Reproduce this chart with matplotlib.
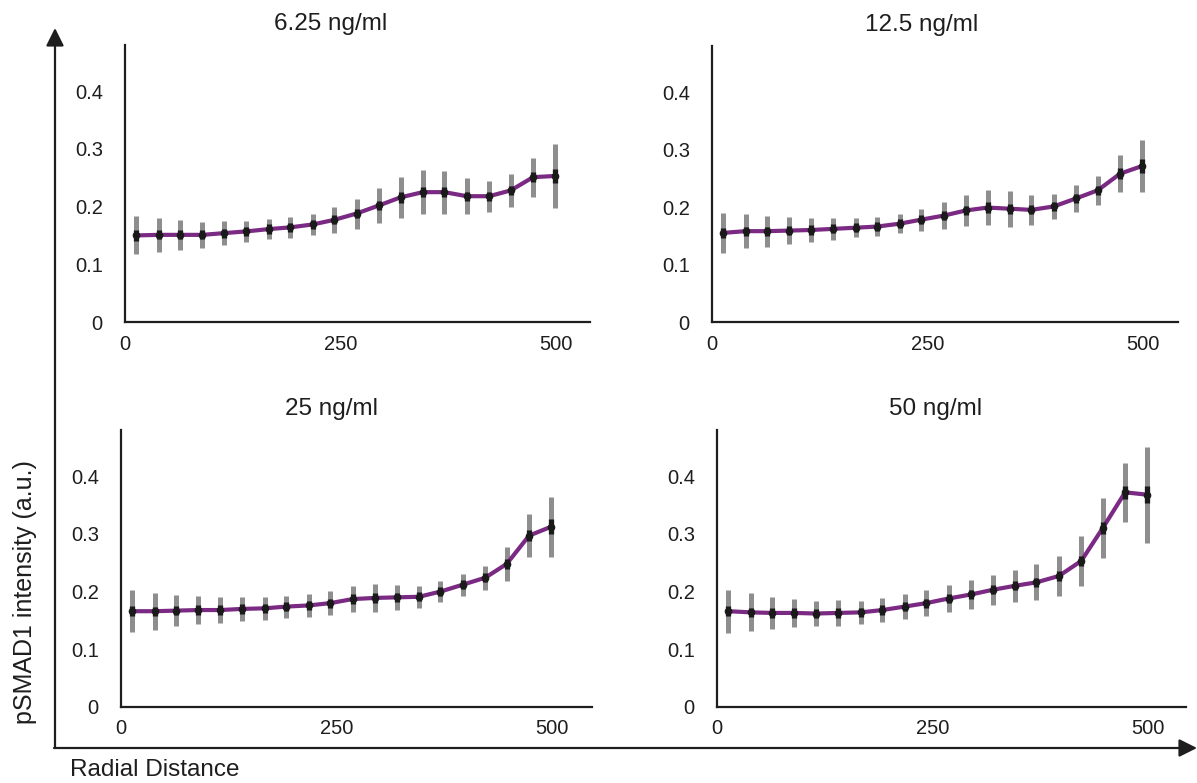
import matplotlib
matplotlib.use("Agg")
import matplotlib.pyplot as plt

plt.rcParams['font.family'] = ['Liberation Sans', 'DejaVu Sans']

# ---- data ----
radial = [13, 39, 64, 90, 115, 141, 167, 192, 218, 243,
          269, 295, 320, 346, 371, 397, 423, 448, 474, 499]

titles = ["6.25 ng/ml", "12.5 ng/ml", "25 ng/ml", "50 ng/ml"]

mean_625 = [0.150, 0.151, 0.151, 0.151, 0.154, 0.157, 0.161, 0.164, 0.169, 0.177,
            0.188, 0.202, 0.216, 0.225, 0.225, 0.218, 0.218, 0.228, 0.251, 0.253]
sd_625 = [0.033, 0.030, 0.026, 0.023, 0.021, 0.018, 0.017, 0.018, 0.019, 0.022,
          0.026, 0.031, 0.036, 0.038, 0.037, 0.031, 0.027, 0.029, 0.034, 0.056]
se_625 = [0.009, 0.008, 0.008, 0.008, 0.008, 0.008, 0.008, 0.008, 0.008, 0.008,
          0.008, 0.008, 0.009, 0.009, 0.009, 0.008, 0.008, 0.008, 0.009, 0.012]

mean_125 = [0.155, 0.158, 0.158, 0.159, 0.160, 0.162, 0.164, 0.166, 0.171, 0.178,
            0.185, 0.194, 0.199, 0.197, 0.195, 0.201, 0.215, 0.229, 0.258, 0.271]
sd_125 = [0.035, 0.029, 0.027, 0.024, 0.021, 0.019, 0.017, 0.017, 0.017, 0.019,
          0.023, 0.027, 0.031, 0.031, 0.026, 0.022, 0.023, 0.025, 0.032, 0.045]
se_125 = [0.009, 0.008, 0.008, 0.008, 0.008, 0.008, 0.008, 0.008, 0.008, 0.008,
          0.008, 0.008, 0.009, 0.009, 0.008, 0.008, 0.008, 0.008, 0.009, 0.012]

mean_25 = [0.166, 0.166, 0.167, 0.168, 0.168, 0.170, 0.171, 0.174, 0.176, 0.180,
           0.187, 0.189, 0.190, 0.191, 0.200, 0.212, 0.224, 0.248, 0.297, 0.312]
sd_25 = [0.036, 0.032, 0.027, 0.025, 0.023, 0.021, 0.020, 0.019, 0.020, 0.021,
         0.023, 0.025, 0.022, 0.019, 0.018, 0.019, 0.021, 0.029, 0.037, 0.052]
se_25 = [0.009, 0.008, 0.008, 0.008, 0.008, 0.008, 0.008, 0.008, 0.008, 0.008,
         0.008, 0.008, 0.008, 0.008, 0.008, 0.008, 0.008, 0.009, 0.010, 0.013]

mean_50 = [0.166, 0.164, 0.163, 0.163, 0.162, 0.163, 0.164, 0.168, 0.174, 0.180,
           0.188, 0.195, 0.203, 0.210, 0.216, 0.227, 0.253, 0.310, 0.372, 0.368]
sd_50 = [0.037, 0.033, 0.027, 0.025, 0.022, 0.022, 0.020, 0.021, 0.022, 0.023,
         0.024, 0.025, 0.026, 0.028, 0.031, 0.034, 0.043, 0.052, 0.051, 0.083]
se_50 = [0.009, 0.008, 0.008, 0.008, 0.008, 0.008, 0.008, 0.008, 0.008, 0.008,
         0.008, 0.008, 0.008, 0.008, 0.008, 0.008, 0.009, 0.010, 0.011, 0.015]

means = [mean_625, mean_125, mean_25, mean_50]
sds = [sd_625, sd_125, sd_25, sd_50]
ses = [se_625, se_125, se_25, se_50]

yticks = [0, 0.1, 0.2, 0.3, 0.4]
ytick_labels = ["0", "0.1", "0.2", "0.3", "0.4"]
xticks = [0, 250, 500]
xtick_labels = ["0", "250", "500"]

# ---- styling ----
W, H = 1197, 783
fig = plt.figure(figsize=(W / 100, H / 100), dpi=100)

text_col = "#1e1e1e"
line_col = "#7a2a82"
sd_col = "#8e8e8e"
se_col = "#1a1a1a"

# background overlay for the big arrows (pixel coordinates)
bg = fig.add_axes([0, 0, 1, 1], zorder=0)
bg.set_xlim(0, W)
bg.set_ylim(H, 0)
bg.axis("off")
arrow_kw = dict(arrowstyle="-|>", mutation_scale=27, lw=1.6, color=text_col,
                shrinkA=0, shrinkB=0)
bg.annotate("", xy=(55, 28), xytext=(55, 748), arrowprops=arrow_kw)
bg.annotate("", xy=(1197, 748), xytext=(54, 748), arrowprops=arrow_kw)

fig.text(25 / W, 1 - 592 / H, "pSMAD1 intensity (a.u.)", rotation=90,
         ha="center", va="center", fontsize=18, color=text_col)
fig.text(70 / W, 1 - 770 / H, "Radial Distance", ha="left", va="center",
         fontsize=17.5, color=text_col)

# axes rectangles in pixels: left, top, right, bottom
boxes = [(125, 45, 590, 322), (712, 46, 1178, 322),
         (121, 430, 592, 707), (717, 430, 1186, 707)]
title_x = [0.443, 0.45, 0.446, 0.465]

for i, (l, t, r, b) in enumerate(boxes):
    ax = fig.add_axes([l / W, 1 - b / H, (r - l) / W, (b - t) / H], zorder=1)
    ax.set_xlim(0, (r - l) / 0.861)
    ax.set_ylim(0, 0.48)
    for s in ["top", "right"]:
        ax.spines[s].set_visible(False)
    for s in ["left", "bottom"]:
        ax.spines[s].set_linewidth(1.6)
        ax.spines[s].set_color(text_col)
    ax.set_xticks(xticks)
    ax.set_xticklabels(xtick_labels)
    ax.set_yticks(yticks)
    ax.set_yticklabels(ytick_labels)
    ax.tick_params(axis="both", length=0, labelsize=14.5, colors=text_col)
    ax.tick_params(axis="y", pad=16)
    ax.tick_params(axis="x", pad=9)
    ax.patch.set_alpha(0)

    ax.errorbar(radial, means[i], yerr=sds[i], fmt="none", ecolor=sd_col,
                elinewidth=3.6, capsize=0, zorder=2)
    ax.plot(radial, means[i], color=line_col, lw=3.0, zorder=3)
    ax.errorbar(radial, means[i], yerr=ses[i], fmt="none", ecolor=se_col,
                elinewidth=3.8, capsize=0, zorder=4)
    ax.plot(radial, means[i], "o", color=se_col, ms=4.5, zorder=5)

    ax.set_title(titles[i], x=title_x[i], fontsize=17.5, color=text_col, pad=11)

fig.savefig("out.png", dpi=100)
